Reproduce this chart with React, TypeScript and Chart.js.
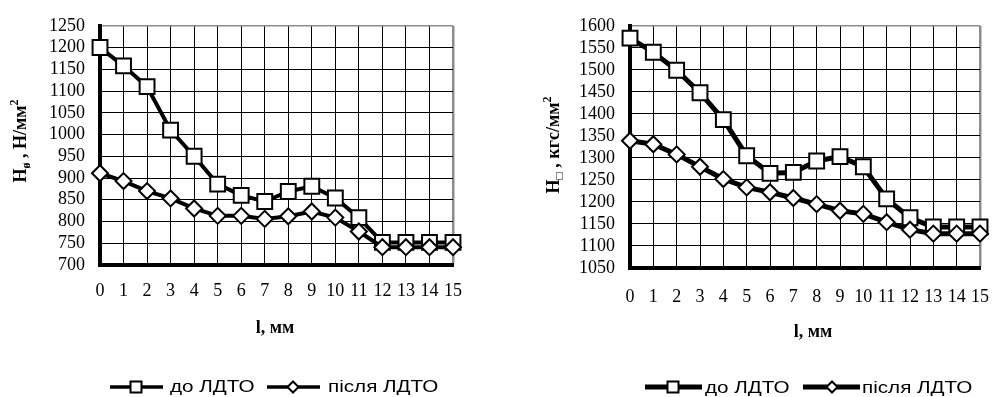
import React, { useEffect, useRef } from 'react';
import { Chart, registerables } from 'chart.js';

Chart.register(...registerables);

// ---------- DATA ----------
const categories = ['0', '1', '2', '3', '4', '5', '6', '7', '8', '9', '10', '11', '12', '13', '14', '15'];
const seriesNames = ['до ЛДТО', 'після ЛДТО'];

// left chart: H, Н/мм²
const leftBefore = [1200, 1158, 1110, 1010, 950, 886, 860, 846, 869, 881, 854, 809, 752, 752, 752, 752];
const leftAfter = [911, 893, 870, 853, 830, 813, 813, 806, 812, 823, 809, 777, 741, 741, 741, 741];
const leftYMin = 700;
const leftYMax = 1250;

// right chart: H, кгс/мм²
const rightBefore = [1572, 1540, 1499, 1448, 1387, 1305, 1265, 1267, 1293, 1303, 1280, 1207, 1164, 1143, 1143, 1143];
const rightAfter = [1339, 1331, 1308, 1280, 1252, 1233, 1222, 1209, 1195, 1180, 1173, 1154, 1137, 1128, 1128, 1128];
const rightYMin = 1050;
const rightYMax = 1600;

const yStep = 50;
const xTitle = 'l, мм';
const leftYTitle = ['H', 'ø', ' , Н/мм', '2'];
const rightYTitle = ['H', '□', ' , кгс/мм', '2'];

const SERIF = '"Liberation Serif", "Times New Roman", serif';
const SANS = '"Liberation Sans", Arial, sans-serif';

type PanelCfg = {
  left: number;
  width: number;
  before: number[];
  after: number[];
  yMin: number;
  yMax: number;
  yTitle: string[];
  yScaleWidth: number;
  padRight: number;
  padTop: number;
  xScaleHeight: number;
  tickPadX: number;
  lineWidth: number;
  yTitleX: number;
  yTitleY: number;
  xTitleX: number;
  xTitleY: number;
  legend: { y: number; baseline: number; lw: number; items: { x1: number; x2: number; mx: number; tx: number }[] };
};

function drawYTitle(ctx: CanvasRenderingContext2D, parts: string[], cx: number, cy: number) {
  const main = `bold 18px ${SERIF}`;
  const sub = `bold 12px ${SERIF}`;
  const fonts = [main, sub, main, sub];
  const dys = [0, 4, 0, -8];
  ctx.save();
  ctx.fillStyle = '#000';
  let total = 0;
  const widths: number[] = [];
  parts.forEach((p, i) => {
    ctx.font = fonts[i];
    const w = ctx.measureText(p).width;
    widths.push(w);
    total += w;
  });
  ctx.translate(cx, cy);
  ctx.rotate(-Math.PI / 2);
  ctx.textBaseline = 'alphabetic';
  ctx.textAlign = 'left';
  let x = -total / 2;
  parts.forEach((p, i) => {
    ctx.font = fonts[i];
    ctx.fillText(p, x, 6 + dys[i]);
    x += widths[i];
  });
  ctx.restore();
}

function drawMarker(ctx: CanvasRenderingContext2D, kind: 'rect' | 'diamond', x: number, y: number, s: number) {
  ctx.save();
  ctx.fillStyle = '#fff';
  ctx.strokeStyle = '#000';
  ctx.lineWidth = 2;
  ctx.beginPath();
  if (kind === 'rect') {
    ctx.rect(x - s / 2, y - s / 2, s, s);
  } else {
    ctx.moveTo(x - s / 2, y);
    ctx.lineTo(x, y - s / 2);
    ctx.lineTo(x + s / 2, y);
    ctx.lineTo(x, y + s / 2);
    ctx.closePath();
  }
  ctx.fill();
  ctx.stroke();
  ctx.restore();
}

function Panel({ cfg }: { cfg: PanelCfg }) {
  const ref = useRef<HTMLCanvasElement | null>(null);
  useEffect(() => {
    if (!ref.current) return;
    const extras = {
      id: 'extras',
      afterDraw(chart: any) {
        const ctx: CanvasRenderingContext2D = chart.ctx;
        drawYTitle(ctx, cfg.yTitle, cfg.yTitleX, cfg.yTitleY);
        ctx.save();
        ctx.fillStyle = '#000';
        ctx.font = `bold 18px ${SERIF}`;
        ctx.textAlign = 'center';
        ctx.textBaseline = 'alphabetic';
        ctx.fillText(xTitle, cfg.xTitleX, cfg.xTitleY);
        ctx.restore();
        // legend
        const lg = cfg.legend;
        lg.items.forEach((it, i) => {
          ctx.save();
          ctx.strokeStyle = '#000';
          ctx.lineWidth = lg.lw;
          ctx.beginPath();
          ctx.moveTo(it.x1, lg.y);
          ctx.lineTo(it.x2, lg.y);
          ctx.stroke();
          ctx.restore();
          drawMarker(ctx, i === 0 ? 'rect' : 'diamond', it.mx, lg.y, 11);
          ctx.save();
          ctx.fillStyle = '#000';
          ctx.font = `16px ${SANS}`;
          ctx.textAlign = 'left';
          ctx.textBaseline = 'alphabetic';
          ctx.translate(it.tx, lg.baseline);
          ctx.scale(1.29, 1);
          ctx.fillText(seriesNames[i], 0, 0);
          ctx.restore();
        });
      },
    };
    const chart = new Chart(ref.current, {
      type: 'line',
      data: {
        labels: categories,
        datasets: [
          {
            label: seriesNames[0],
            data: cfg.before,
            borderColor: '#000',
            borderWidth: cfg.lineWidth,
            pointStyle: 'rect',
            pointRadius: 10.5,
            pointBorderWidth: 2,
            pointBackgroundColor: '#fff',
            pointBorderColor: '#000',
            tension: 0,
            clip: false,
            order: 2,
          } as any,
          {
            label: seriesNames[1],
            data: cfg.after,
            borderColor: '#000',
            borderWidth: cfg.lineWidth,
            pointStyle: 'rectRot',
            pointRadius: 8,
            pointBorderWidth: 2,
            pointBackgroundColor: '#fff',
            pointBorderColor: '#000',
            tension: 0,
            clip: false,
            order: 1,
          } as any,
        ],
      },
      options: {
        animation: false,
        responsive: false,
        maintainAspectRatio: false,
        layout: { padding: { left: 0, right: cfg.padRight, top: cfg.padTop, bottom: 0 } },
        plugins: { legend: { display: false }, tooltip: { enabled: false } },
        scales: {
          x: {
            type: 'category',
            offset: false,
            afterFit: (s: any) => {
              s.height = cfg.xScaleHeight;
            },
            border: { display: true, color: '#000', width: 4 },
            grid: {
              drawTicks: false,
              color: (c: any) => (c.index === categories.length - 1 ? '#8c8c8c' : '#000'),
              lineWidth: (c: any) => (c.index === categories.length - 1 ? 2.5 : 1),
            },
            ticks: {
              autoSkip: false,
              maxRotation: 0,
              minRotation: 0,
              padding: cfg.tickPadX,
              color: '#000',
              font: { family: SERIF, size: 18 },
            },
          },
          y: {
            min: cfg.yMin,
            max: cfg.yMax,
            afterFit: (s: any) => {
              s.width = cfg.yScaleWidth;
            },
            border: { display: true, color: '#000', width: 4 },
            grid: {
              drawTicks: false,
              color: (c: any) => (c.tick && c.tick.value === cfg.yMax ? '#8c8c8c' : '#000'),
              lineWidth: (c: any) => (c.tick && c.tick.value === cfg.yMax ? 1.5 : 1),
            },
            ticks: {
              stepSize: yStep,
              autoSkip: false,
              padding: 15,
              color: '#000',
              font: { family: SERIF, size: 18 },
              callback: (v: any) => String(v),
            },
          },
        },
      } as any,
      plugins: [extras],
    });
    return () => chart.destroy();
  }, [cfg]);
  return (
    <canvas
      ref={ref}
      width={cfg.width}
      height={397}
      style={{ position: 'absolute', left: cfg.left, top: 0, width: cfg.width, height: 397 }}
    />
  );
}

const leftCfg: PanelCfg = {
  left: 0,
  width: 515,
  before: leftBefore,
  after: leftAfter,
  yMin: leftYMin,
  yMax: leftYMax,
  yTitle: leftYTitle,
  yScaleWidth: 100,
  padRight: 62,
  padTop: 22,
  xScaleHeight: 132,
  tickPadX: 15,
  lineWidth: 4,
  yTitleX: 20,
  yTitleY: 141,
  xTitleX: 275,
  xTitleY: 333,
  legend: {
    y: 387,
    baseline: 392,
    lw: 3.5,
    items: [
      { x1: 110, x2: 163, mx: 136, tx: 170 },
      { x1: 267, x2: 320, mx: 293, tx: 328 },
    ],
  },
};

const rightCfg: PanelCfg = {
  left: 520,
  width: 487,
  before: rightBefore,
  after: rightAfter,
  yMin: rightYMin,
  yMax: rightYMax,
  yTitle: rightYTitle,
  yScaleWidth: 110,
  padRight: 9,
  padTop: 24,
  xScaleHeight: 129,
  tickPadX: 18,
  lineWidth: 5,
  yTitleX: 33,
  yTitleY: 145,
  xTitleX: 293,
  xTitleY: 337,
  legend: {
    y: 387,
    baseline: 393,
    lw: 5,
    items: [
      { x1: 125, x2: 182, mx: 153, tx: 185 },
      { x1: 283, x2: 340, mx: 312, tx: 342 },
    ],
  },
};

export default function App() {
  useEffect(() => {
    document.body.style.margin = '0';
  }, []);
  return (
    <div style={{ position: 'absolute', left: 0, top: 0, width: 1007, height: 397, background: '#fff', overflow: 'hidden' }}>
      <Panel cfg={leftCfg} />
      <Panel cfg={rightCfg} />
    </div>
  );
}
